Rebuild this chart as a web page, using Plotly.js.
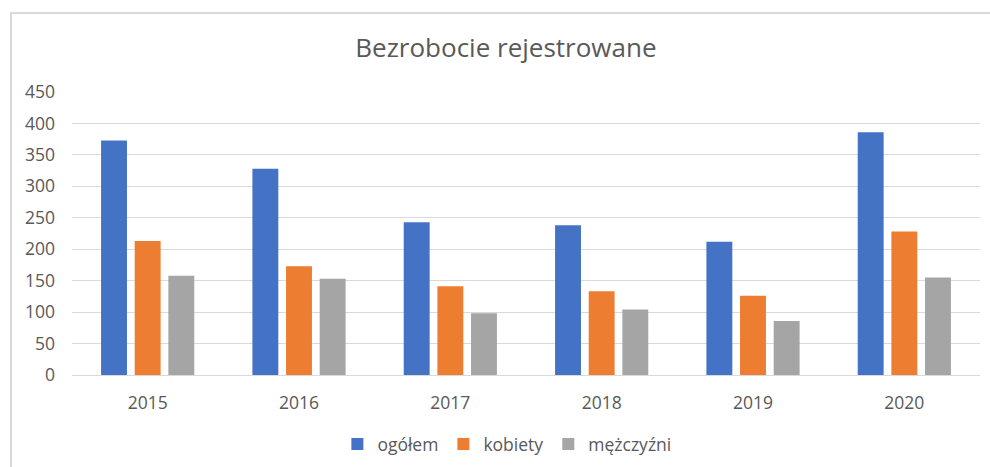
<!DOCTYPE html>
<html>
<head>
<meta charset="utf-8">
<script src="https://cdn.plot.ly/plotly-3.0.1.min.js"></script>
<style>
  html, body { margin: 0; padding: 0; background: #ffffff; }
  #frame { position: absolute; left: 10px; top: 12px; width: 990px; height: 470px;
           border-left: 2px solid #d9d9d9; border-top: 2px solid #d9d9d9; box-sizing: border-box; }
  #chart { position: absolute; left: 0; top: 0; width: 990px; height: 467px; }
</style>
</head>
<body>
<div id="frame"></div>
<div id="chart"></div>
<script>
const years = ['2015', '2016', '2017', '2018', '2019', '2020'];
const ogolem = [373, 328, 243, 238, 212, 386];
const kobiety = [213, 173, 141, 133, 126, 228];
const mezczyzni = [158, 153, 98, 104, 86, 155];
const yTicks = [0, 50, 100, 150, 200, 250, 300, 350, 400, 450];

const fontFam = '"Open Sans", "Noto Sans", sans-serif';

const traces = [
  { type: 'bar', name: 'ogółem', x: years, y: ogolem, marker: { color: '#4472C4' } },
  { type: 'bar', name: 'kobiety', x: years, y: kobiety, marker: { color: '#ED7D31' } },
  { type: 'bar', name: 'mężczyźni', x: years, y: mezczyzni, marker: { color: '#A5A5A5' } }
];

const layout = {
  width: 990, height: 467,
  paper_bgcolor: 'rgba(0,0,0,0)',
  plot_bgcolor: 'rgba(0,0,0,0)',
  margin: { l: 72, r: 10, t: 92, b: 92 },
  font: { family: fontFam, color: '#595959', size: 17 },
  title: { text: 'Bezrobocie rejestrowane', font: { family: fontFam, size: 26, color: '#595959' },
           x: 0.511, xref: 'container', xanchor: 'center', y: 0.897, yref: 'container', yanchor: 'middle' },
  barmode: 'group',
  bargap: 0.333,
  bargroupgap: 0.23,
  xaxis: { type: 'category', showgrid: false, zeroline: false, showline: true, linecolor: '#d9d9d9', linewidth: 1,
           ticks: '', tickfont: { size: 17.5, color: '#595959' }, ticklabelstandoff: 12 },
  yaxis: { range: [0, 450], tickvals: yTicks, showgrid: true, gridcolor: '#d9d9d9', gridwidth: 1,
           zeroline: false, showline: false, ticks: '', tickfont: { size: 17.5, color: '#595959' }, ticklabelstandoff: 16 },
  legend: { orientation: 'h', x: 0.512, xref: 'container', xanchor: 'center', y: 0.049, yref: 'container', yanchor: 'middle',
            font: { size: 17.5, color: '#595959' }, itemwidth: 30, traceorder: 'normal' },
  showlegend: true
};

Plotly.newPlot('chart', traces, layout, { displayModeBar: false, staticPlot: true });
</script>
</body>
</html>
